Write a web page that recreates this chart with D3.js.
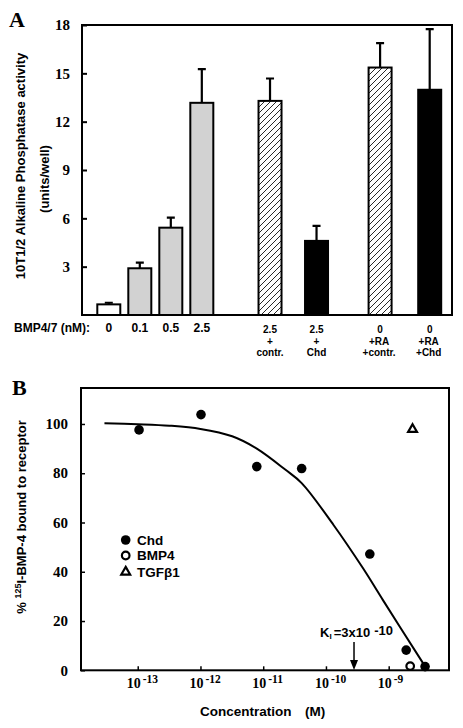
<!DOCTYPE html>
<html><head><meta charset="utf-8">
<script src="https://cdn.jsdelivr.net/npm/d3@7"></script>
<style>
html,body{margin:0;padding:0;background:#fff;}
svg{display:block;}
.serif{font-family:"Liberation Serif","Times New Roman",serif;font-weight:bold;}
.sans{font-family:"Liberation Sans",Arial,sans-serif;font-weight:bold;}
</style>
</head><body>
<svg id="chart" width="463" height="728"></svg>
<script>
// ---------- Panel A data ----------
const catLabels = [["0"],["0.1"],["0.5"],["2.5"],["2.5","+","contr."],["2.5","+","Chd"],["0","+RA","+contr."],["0","+RA","+Chd"]];
const activity = [0.66, 2.9, 5.42, 13.17, 13.29, 4.6, 15.36, 13.98];
const activityErr = [0.1, 0.35, 0.62, 2.09, 1.39, 0.93, 1.52, 3.77];
const barFill = ["white","gray","gray","gray","hatch","black","hatch","black"];
const yTicksA = [3,6,9,12,15,18];

// ---------- Panel B data ----------
const chdConc = [1.05e-13, 1.02e-12, 7.9e-12, 4.1e-11, 5.0e-10, 1.9e-9, 3.8e-9];
const chdBound = [97.6, 103.8, 82.7, 81.9, 47.2, 8.2, 1.5];
const bmp4Conc = [2.2e-9];
const bmp4Bound = [1.7];
const tgfConc = [2.4e-9];
const tgfBound = [97.8];
const fitConc = [2.95e-14, 1e-13, 3.2e-13, 1e-12, 3.2e-12, 7.9e-12, 2.24e-11, 4.1e-11, 1.32e-10, 3.9e-10, 8.1e-10, 3.5e-9];
const fitBound = [100.3, 99.9, 99.3, 98.0, 95.0, 90.0, 81.5, 76.0, 59.0, 41.4, 28.5, 3];
const yTicksB = [0,20,40,60,80,100];
const xTicksB = [-13,-12,-11,-10,-9];
const kiConc = 2.8e-10;

// layout (bar slot positions; groups separated by gaps)
const slotIdx = [0,1,2,3,5.2,6.7,8.75,10.35];

const svg = d3.select("#chart");
const defs = svg.append("defs");
const hatch = defs.append("pattern").attr("id","hatch").attr("patternUnits","userSpaceOnUse")
  .attr("width",6).attr("height",6);
hatch.append("rect").attr("width",6).attr("height",6).attr("fill","#fff");
hatch.append("path").attr("d","M-1,7 L7,-1 M-4,4 L4,-4 M2,10 L10,2").attr("stroke","#111").attr("stroke-width",0.9);
const fillOf = f => f==="white" ? "#fff" : f==="gray" ? "#d2d2d2" : f==="black" ? "#000" : "url(#hatch)";

// ================= Panel A =================
const A = {l:82, r:452, t:25, b:315};
const yA = d3.scaleLinear().domain([0,18]).range([A.b, A.t]);
const xA = d3.scaleLinear().domain([0, slotIdx[slotIdx.length-1]]).range([108.8, 429.7]);
const bw = 23;

const gA = svg.append("g");
gA.selectAll("rect.bar").data(activity).join("rect").attr("class","bar")
  .attr("x",(d,i)=>xA(slotIdx[i])-bw/2).attr("y",d=>yA(d))
  .attr("width",bw).attr("height",d=>yA(0)-yA(d))
  .attr("fill",(d,i)=>fillOf(barFill[i])).attr("stroke","#000").attr("stroke-width",2);
gA.selectAll("path.err").data(activity).join("path").attr("class","err")
  .attr("d",(d,i)=>{const x=xA(slotIdx[i]); const y1=yA(d+activityErr[i]);
     return `M${x},${yA(d)}V${y1}M${x-4},${y1}H${x+4}`;})
  .attr("stroke","#000").attr("stroke-width",2.2).attr("fill","none");
gA.append("rect").attr("x",A.l).attr("y",A.t).attr("width",A.r-A.l).attr("height",A.b-A.t)
  .attr("fill","none").attr("stroke","#000").attr("stroke-width",2);
gA.append("g").attr("transform",`translate(${A.l},0)`)
  .call(d3.axisRight(yA).tickValues(yTicksA).tickSize(5).tickFormat(""))
  .call(g=>g.select(".domain").remove()).selectAll("line").attr("stroke-width",2);
gA.selectAll("text.ytA").data(yTicksA).join("text").attr("class","ytA serif")
  .attr("x",70).attr("y",d=>yA(d)).attr("dy","0.35em").attr("text-anchor","end")
  .attr("font-size",15).text(d=>d);
gA.append("text").attr("class","sans").attr("x",14).attr("y",332).attr("font-size",12).text("BMP4/7 (nM):");
catLabels.forEach((lines,i)=>{
  const t = gA.append("text").attr("class","sans").attr("y",i<4?332:333)
    .attr("text-anchor","middle").attr("font-size",i<4?12:10);
  lines.forEach((s,j)=>{
    t.append("tspan").attr("x",xA(slotIdx[i]) + (s.startsWith("+")&&s.length>1?-1:0))
      .attr("dy", j===0?0:11.6).text(s);
  });
});
gA.append("text").attr("class","sans").attr("transform","translate(25,166) rotate(-90)")
  .attr("text-anchor","middle").attr("font-size",13).text("10T1/2 Alkaline Phosphatase activity");
gA.append("text").attr("class","sans").attr("transform","translate(49,179) rotate(-90)")
  .attr("text-anchor","middle").attr("font-size",13).text("(units/well)");
svg.append("text").attr("class","serif").attr("x",9).attr("y",27).attr("font-size",22).text("A");

// ================= Panel B =================
const B = {l:81, r:449, t:388, b:670.3};
const xB = d3.scaleLog().domain([Math.pow(10,-13.904), Math.pow(10,-8.039)]).range([B.l,B.r]);
const yB = d3.scaleLinear().domain([0, 114.6]).range([B.b, B.t]);
const gB = svg.append("g");
gB.append("rect").attr("x",B.l).attr("y",B.t).attr("width",B.r-B.l).attr("height",B.b-B.t)
  .attr("fill","none").attr("stroke","#000").attr("stroke-width",2);
gB.append("g").attr("transform",`translate(${B.l},0)`)
  .call(d3.axisRight(yB).tickValues(yTicksB).tickSize(4).tickFormat(""))
  .call(g=>g.select(".domain").remove()).selectAll("line").attr("stroke-width",1.5);
gB.selectAll("text.ytB").data(yTicksB).join("text").attr("class","ytB serif")
  .attr("x",68).attr("y",d=>yB(d)).attr("dy","0.35em").attr("text-anchor","end")
  .attr("font-size",15).text(d=>d);
gB.append("g").attr("transform",`translate(0,${B.b})`)
  .call(d3.axisTop(xB).tickValues(xTicksB.map(e=>Math.pow(10,e))).tickSize(4).tickFormat(""))
  .call(g=>g.select(".domain").remove()).selectAll("line").attr("stroke-width",1.5);
xTicksB.forEach(e=>{
  const t = gB.append("text").attr("class","serif").attr("x",xB(Math.pow(10,e))-11).attr("y",688).attr("font-size",14);
  t.append("tspan").text("10");
  t.append("tspan").attr("dx",2).attr("dy",-5).attr("font-size",11.5).text(String(e));
});
const line = d3.line().x(d=>xB(d[0])).y(d=>yB(d[1])).curve(d3.curveCatmullRom);
gB.append("path").datum(fitConc.map((c,i)=>[c,fitBound[i]])).attr("d",line)
  .attr("fill","none").attr("stroke","#000").attr("stroke-width",2);
gB.selectAll("circle.chd").data(chdConc).join("circle").attr("class","chd")
  .attr("cx",d=>xB(d)).attr("cy",(d,i)=>yB(chdBound[i])).attr("r",4.8).attr("fill","#000");
gB.selectAll("circle.bmp").data(bmp4Conc).join("circle").attr("class","bmp")
  .attr("cx",d=>xB(d)).attr("cy",(d,i)=>yB(bmp4Bound[i])).attr("r",3.8).attr("fill","#fff")
  .attr("stroke","#000").attr("stroke-width",2.2);
const tri = d3.symbol().type(d3.symbolTriangle).size(34);
gB.selectAll("path.tgf").data(tgfConc).join("path").attr("class","tgf")
  .attr("transform",(d,i)=>`translate(${xB(d)},${yB(tgfBound[i])})`).attr("d",tri)
  .attr("fill","#fff").attr("stroke","#000").attr("stroke-width",2.2);
const legY = [540, 555.5, 572];
gB.append("circle").attr("cx",125.7).attr("cy",legY[0]).attr("r",4.8).attr("fill","#000");
gB.append("circle").attr("cx",125.7).attr("cy",legY[1]).attr("r",3.8).attr("fill","#fff").attr("stroke","#000").attr("stroke-width",2.2);
gB.append("path").attr("transform",`translate(125.7,${legY[2]})`).attr("d",tri).attr("fill","#fff").attr("stroke","#000").attr("stroke-width",2.2);
["Chd","BMP4","TGFβ1"].forEach((t,i)=>gB.append("text").attr("class","sans").attr("x",137).attr("y",legY[i]).attr("dy","0.36em").attr("font-size",13.5).text(t));
const kx = xB(kiConc);
gB.append("path").attr("d",`M${kx},642V662`).attr("stroke","#000").attr("stroke-width",1.5);
gB.append("path").attr("d",`M${kx-4},660L${kx+4},660L${kx},670Z`).attr("fill","#000");
const kt = gB.append("text").attr("class","sans").attr("x",320).attr("y",637).attr("font-size",13);
kt.append("tspan").text("K");
kt.append("tspan").attr("font-size",8).attr("dy",2).text("I");
kt.append("tspan").attr("dy",-2).attr("dx",2).text("=3x10");
kt.append("tspan").attr("dx",4).attr("dy",-2).text("-10");
const yt = gB.append("text").attr("class","sans").attr("transform","translate(26,517) rotate(-90)")
  .attr("text-anchor","middle").attr("font-size",13);
yt.append("tspan").text("% ");
yt.append("tspan").attr("font-size",9).attr("dy",-5).text("125");
yt.append("tspan").attr("dy",5).text("I-BMP-4 bound to receptor");
gB.append("text").attr("class","sans").attr("x",200).attr("y",716).attr("font-size",13.5).text("Concentration");
gB.append("text").attr("class","sans").attr("x",305).attr("y",716).attr("font-size",13.5).text("(M)");
svg.append("text").attr("class","serif").attr("x",12).attr("y",395).attr("font-size",22).text("B");
</script>
</body></html>
